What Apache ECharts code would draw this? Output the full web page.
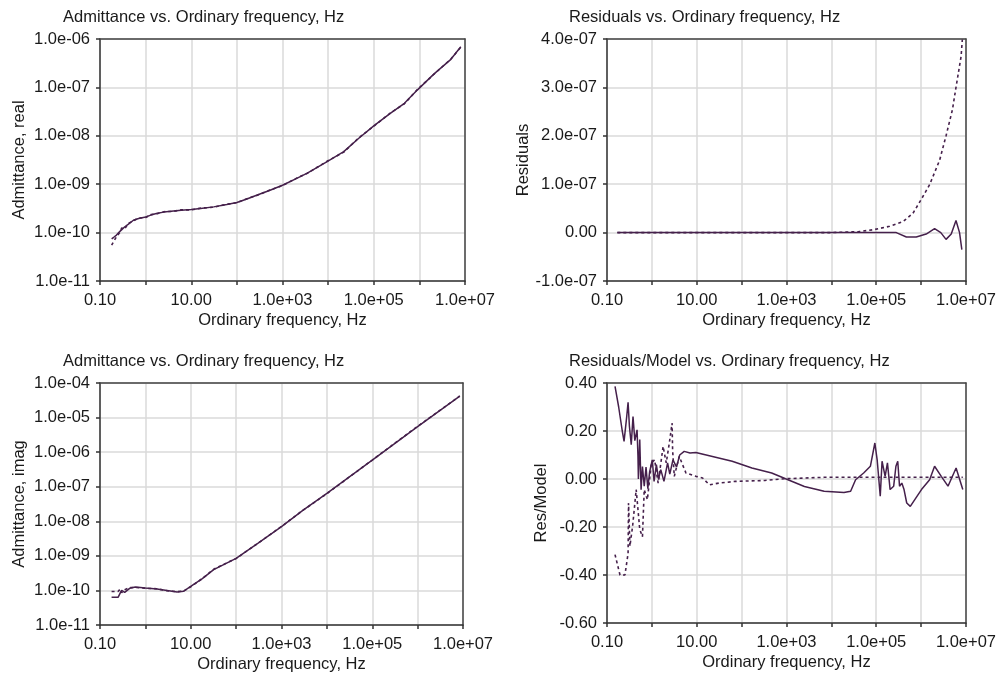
<!DOCTYPE html>
<html>
<head>
<meta charset="utf-8">
<script src="https://cdn.jsdelivr.net/npm/echarts@6/dist/echarts.min.js"></script>
<style>
    html, body { margin: 0; padding: 0; background: #fff; }
    #main { width: 999px; height: 675px; }
</style>
</head>
<body>
<div id="main"></div>
<script>
// Admittance, real part (top left)
var freqReal = [0.18, 0.2, 0.23, 0.27, 0.3, 0.35, 0.42, 0.54, 0.7, 1.0, 1.3, 1.8, 2.5, 4.1, 6, 10, 16, 31, 60, 100,
    160, 280, 500, 1000, 2000, 3500, 9300, 22000, 47000, 100000, 230000, 470000, 910000, 2100000, 4900000, 8100000];
var realModel = [7.4e-11, 8.0e-11, 8.9e-11, 1.05e-10, 1.15e-10, 1.32e-10, 1.5e-10, 1.8e-10, 1.95e-10, 2.1e-10, 2.3e-10,
    2.5e-10, 2.65e-10, 2.8e-10, 2.9e-10, 3.0e-10, 3.15e-10, 3.4e-10, 3.8e-10, 4.2e-10, 4.9e-10, 6.0e-10, 7.3e-10,
    9.5e-10, 1.3e-9, 1.7e-9, 2.9e-9, 4.7e-9, 8.9e-9, 1.6e-8, 2.9e-8, 4.7e-8, 8.9e-8, 1.9e-7, 3.8e-7, 6.9e-7];
var realData = [5.5e-11, 6.6e-11, 8.2e-11, 1.0e-10, 1.25e-10, 1.2e-10, 1.55e-10, 1.75e-10, 2.0e-10, 2.05e-10, 2.35e-10,
    2.45e-10, 2.7e-10, 2.75e-10, 2.95e-10, 2.95e-10, 3.2e-10, 3.35e-10, 3.85e-10, 4.15e-10, 4.95e-10, 5.9e-10, 7.4e-10,
    9.4e-10, 1.32e-9, 1.68e-9, 2.95e-9, 4.6e-9, 9.1e-9, 1.58e-8, 2.95e-8, 4.6e-8, 9.1e-8, 1.88e-7, 3.85e-7, 6.8e-7];

// Residuals (top right)
var freqRes = [0.17, 1, 10, 100, 1000, 10000, 100000, 280000, 470000, 780000, 1300000, 2000000, 2750000, 3600000,
    4700000, 6000000, 7200000, 8100000];
var resModel = [0, 0, 0, 0, 0, 0, 0, 0, -9e-9, -9e-9, -3e-9, 8e-9, 0, -1.4e-8, -3e-9, 2.5e-8, 0, -3.5e-8];
var freqResData = [0.17, 1, 10, 100, 1000, 10000, 41000, 87000, 200000, 400000, 660000, 1000000, 1550000, 2600000,
    3600000, 5000000, 6000000, 7800000, 8300000];
var resData = [0, 0, 0, 0, 0, 0, 2e-9, 6e-9, 1.3e-8, 2.3e-8, 4e-8, 6.8e-8, 9.9e-8, 1.5e-7, 2.0e-7, 2.54e-7, 3.0e-7,
    3.64e-7, 3.99e-7];

// Admittance, imaginary part (bottom left)
var freqImag = [0.18, 0.25, 0.28, 0.3, 0.35, 0.45, 0.6, 1.0, 1.8, 3.0, 5.0, 7.0, 10, 18, 32, 100, 300, 1000, 3000,
    10000, 100000, 1000000, 8500000];
var imagModel = [6.3e-11, 6.3e-11, 8.5e-11, 1.0e-10, 8.8e-11, 1.15e-10, 1.25e-10, 1.17e-10, 1.1e-10, 1.0e-10, 9e-11,
    9.5e-11, 1.3e-10, 2.2e-10, 4e-10, 8.5e-10, 2.3e-9, 7e-9, 2.1e-8, 6.4e-8, 5.9e-7, 5.5e-6, 4.2e-5];
var imagData = [9.3e-11, 9.3e-11, 1.1e-10, 8.6e-11, 1.05e-10, 1.2e-10, 1.22e-10, 1.15e-10, 1.12e-10, 9.8e-11, 9.2e-11,
    9.6e-11, 1.28e-10, 2.2e-10, 4.1e-10, 8.4e-10, 2.3e-9, 7.1e-9, 2.1e-8, 6.3e-8, 5.9e-7, 5.6e-6, 4.2e-5];

// Residuals / Model (bottom right)
var freqRel = [0.151, 0.182, 0.219, 0.240, 0.275, 0.295, 0.316, 0.347, 0.380, 0.417, 0.468, 0.490, 0.501, 0.537,
    0.575, 0.617, 0.676, 0.741, 0.813, 0.891, 1.02, 1.12, 1.26, 1.41, 1.58, 1.86, 2.24, 2.51, 2.95, 3.55, 4.17, 5.25,
    7.08, 9.55, 22.4, 61.7, 170, 468, 955, 2510, 6920, 19100, 26900, 34700, 52500, 74100, 93300, 105000, 123000,
    135000, 158000, 178000, 204000, 245000, 275000, 302000, 331000, 372000, 417000, 479000, 575000, 724000, 1020000,
    1550000, 2000000, 2820000, 3980000, 6030000, 8510000];
var relModel = [0.386, 0.30, 0.20, 0.157, 0.26, 0.32, 0.22, 0.143, 0.26, 0.16, 0.205, 0.094, 0.0, 0.164, -0.045, 0.052,
    -0.03, 0.05, -0.04, 0.03, 0.08, -0.01, 0.06, 0.0, 0.039, -0.01, 0.067, 0.02, 0.08, 0.05, 0.10, 0.115, 0.108, 0.11,
    0.094, 0.074, 0.046, 0.025, 0.001, -0.031, -0.051, -0.056, -0.051, -0.003, 0.025, 0.053, 0.15, 0.08, -0.072, 0.074,
    0.011, 0.067, -0.044, -0.03, 0.053, 0.074, -0.03, -0.017, -0.044, -0.1, -0.114, -0.086, -0.044, -0.003, 0.053,
    0.011, -0.03, 0.046, -0.044];
var freqRelData = [0.151, 0.195, 0.251, 0.295, 0.302, 0.324, 0.372, 0.447, 0.490, 0.537, 0.617, 0.676, 0.794, 0.977,
    1.15, 1.38, 1.78, 2.09, 2.45, 2.82, 2.9, 3.16, 4.07, 5.75, 9.55, 13.5, 19.1, 31.6, 72.4, 331, 912, 6920, 87100,
    8510000];
var relData = [-0.315, -0.40, -0.40, -0.31, -0.10, -0.28, -0.197, -0.044, -0.045, -0.21, -0.24, -0.044, -0.086, 0.067,
    0.08, -0.017, 0.136, 0.067, 0.15, 0.233, 0.12, 0.011, 0.094, 0.025, 0.011, 0.004, -0.024, -0.017, -0.01, -0.006,
    0.001, 0.007, 0.007, 0.007];

var titles = ['Admittance vs. Ordinary frequency, Hz', 'Residuals vs. Ordinary frequency, Hz',
    'Admittance vs. Ordinary frequency, Hz', 'Residuals/Model vs. Ordinary frequency, Hz'];
var yNames = ['Admittance, real', 'Residuals', 'Admittance, imag', 'Res/Model'];

var lineColor = '#45204b';
var textColor = '#1a1a1a';
var font = 'Liberation Sans, Arial, sans-serif';
var fs = 16.5;

function pairs(xs, ys) {
    var out = [];
    for (var i = 0; i < xs.length; i++) {
        out.push([xs[i], ys[i]]);
    }
    return out;
}

// labels only every second decade: 0.10, 10.00, 1.0e+03 ...
function fmtFreq(v) {
    var e = Math.round(Math.log10(v));
    if ((e + 1) % 2 !== 0) return '';
    if (e < 3) return v.toFixed(2);
    return '1.0e+' + (e < 10 ? '0' : '') + e;
}

function fmtLogY(v) {
    var e = Math.round(Math.log10(v));
    var s = Math.abs(e);
    return '1.0e' + (e < 0 ? '-' : '+') + (s < 10 ? '0' : '') + s;
}

function fmtRes(v) {
    if (Math.abs(v) < 1e-12) return '0.00';
    var m = v / 1e-7;
    return m.toFixed(1) + 'e-07';
}

function baseAxis(gridIndex) {
    return {
        gridIndex: gridIndex,
        nameLocation: 'middle',
        nameTextStyle: {fontSize: fs, color: textColor, fontFamily: font},
        axisLine: {onZero: false, lineStyle: {color: '#333', width: 1.5}},
        axisTick: {length: 4, lineStyle: {color: '#333', width: 1.5}},
        axisLabel: {fontSize: fs, color: textColor, fontFamily: font},
        splitLine: {show: true, lineStyle: {color: '#dadada', width: 1.5}}
    };
}

// plain line on the top / right edge of a box
function borderAxis(gridIndex, pos, src) {
    return {
        gridIndex: gridIndex,
        position: pos,
        type: src.type,
        logBase: src.logBase,
        min: src.min,
        max: src.max,
        axisLine: {onZero: false, lineStyle: {color: '#444', width: 1.5}},
        axisTick: {show: false},
        axisLabel: {show: false},
        splitLine: {show: false}
    };
}

var xAxes = [];
var yAxes = [];
for (var g = 0; g < 4; g++) {
    var xa = baseAxis(g);
    xa.type = 'log';
    xa.logBase = 10;
    xa.min = 0.1;
    xa.max = 1e7;
    xa.splitNumber = 8;
    xa.name = 'Ordinary frequency, Hz';
    xa.nameGap = 31;
    xa.axisLabel.margin = 11;
    xa.axisLabel.formatter = fmtFreq;
    xAxes.push(xa);

    var ya = baseAxis(g);
    ya.name = yNames[g];
    ya.axisLabel.margin = 10;
    if (g === 0 || g === 2) {
        ya.type = 'log';
        ya.logBase = 10;
        ya.min = 1e-11;
        ya.max = g === 0 ? 1e-6 : 1e-4;
        ya.splitNumber = 8;
        ya.nameGap = 72;
        ya.axisLabel.formatter = fmtLogY;
    } else if (g === 1) {
        ya.type = 'value';
        ya.min = -1e-7;
        ya.max = 4e-7;
        ya.interval = 1e-7;
        ya.nameGap = 75;
        ya.axisLabel.formatter = fmtRes;
    } else {
        ya.type = 'value';
        ya.min = -0.6;
        ya.max = 0.4;
        ya.interval = 0.2;
        ya.nameGap = 57;
        ya.axisLabel.formatter = function (v) { return v.toFixed(2); };
    }
    yAxes.push(ya);
}
for (var k = 0; k < 4; k++) {
    xAxes.push(borderAxis(k, 'top', xAxes[k]));
    yAxes.push(borderAxis(k, 'right', yAxes[k]));
}

function line(g, data, dashed) {
    return {
        type: 'line',
        xAxisIndex: g,
        yAxisIndex: g,
        data: data,
        showSymbol: false,
        symbol: 'none',
        z: dashed ? 2 : 3,
        lineStyle: {color: lineColor, width: dashed ? 1.6 : 1.5, type: dashed ? [3, 3] : 'solid'}
    };
}

var myChart = echarts.init(document.getElementById('main'));
var option = {
    animation: false,
    backgroundColor: '#fff',
    title: [
        {text: titles[0], left: 63, top: 9},
        {text: titles[1], left: 569, top: 9},
        {text: titles[2], left: 63, top: 353},
        {text: titles[3], left: 569, top: 353}
    ].map(function (t) {
        t.textStyle = {fontSize: fs, fontWeight: 'normal', color: textColor, fontFamily: font};
        t.padding = 0;
        return t;
    }),
    grid: [
        {left: 100, top: 39, width: 365, height: 242},
        {left: 607, top: 39, width: 363, height: 242},
        {left: 100, top: 383, width: 363, height: 242},
        {left: 607, top: 383, width: 363, height: 240}
    ],
    xAxis: xAxes,
    yAxis: yAxes,
    series: [
        line(0, pairs(freqReal, realData), true),
        line(0, pairs(freqReal, realModel), false),
        line(1, pairs(freqResData, resData), true),
        line(1, pairs(freqRes, resModel), false),
        line(2, pairs(freqImag, imagData), true),
        line(2, pairs(freqImag, imagModel), false),
        line(3, pairs(freqRelData, relData), true),
        line(3, pairs(freqRel, relModel), false)
    ]
};
myChart.setOption(option);
</script>
</body>
</html>
